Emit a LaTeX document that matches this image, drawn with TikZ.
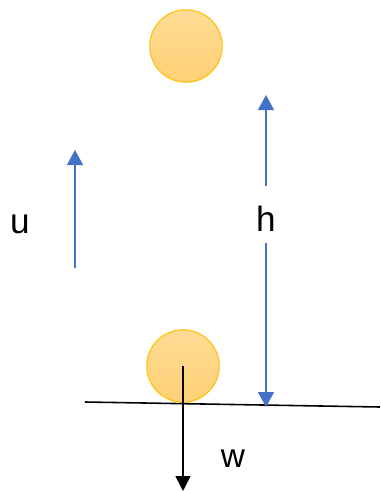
\documentclass[tikz,border=0pt]{standalone}
\usepackage{fontspec}
\setmainfont{Liberation Sans}
\usetikzlibrary{arrows.meta}
\definecolor{balltop}{HTML}{FFDB94}
\definecolor{ballbot}{HTML}{FFD176}
\definecolor{balledge}{HTML}{FFC000}
\definecolor{velblue}{HTML}{4472C4}
\begin{document}
\begin{tikzpicture}[x=0.02cm,y=-0.02cm,
  ball/.style={circle,minimum size=1.45cm,inner sep=0pt,draw=balledge,line width=.6pt,top color=balltop,bottom color=ballbot},
  vel/.style={draw=velblue,line width=.8pt,-{Triangle[length=.3cm,width=.32cm,fill=velblue]}},
  lab/.style={font=\fontsize{20}{24}\selectfont,inner sep=0pt}]
\useasboundingbox (0,0) rectangle (380,491);
% balls
\node[ball] (ballhi) at (186,46) {};
\node[ball] (balllo) at (183,366) {};
% ground
\coordinate (gl) at (85,402); \coordinate (gr) at (380,407);
\draw[line width=.9pt] (gl) -- (gr);
% weight
\coordinate (wtip) at (183,491);
\draw[line width=.9pt,-{Triangle[length=.3cm,width=.3cm]}] (balllo.center) -- (wtip);
\node[lab,font=\fontsize{19}{22}\selectfont] (wlab) at (233,459) {w};
% velocity
\coordinate (ubot) at (75,268); \coordinate (utop) at (75,150);
\draw[vel] (ubot) -- (utop);
\node[lab] (ulab) at (20,224) {u};
% height
\node[lab] (hlab) at (266,219) {h};
\coordinate (hup) at (266,186); \coordinate (hdn) at (266,243);
\coordinate (htop) at (266,95); \coordinate (hbot) at (266,407);
\draw[vel] (hup) -- (htop);
\draw[vel] (hdn) -- (hbot);
\end{tikzpicture}
\end{document}
